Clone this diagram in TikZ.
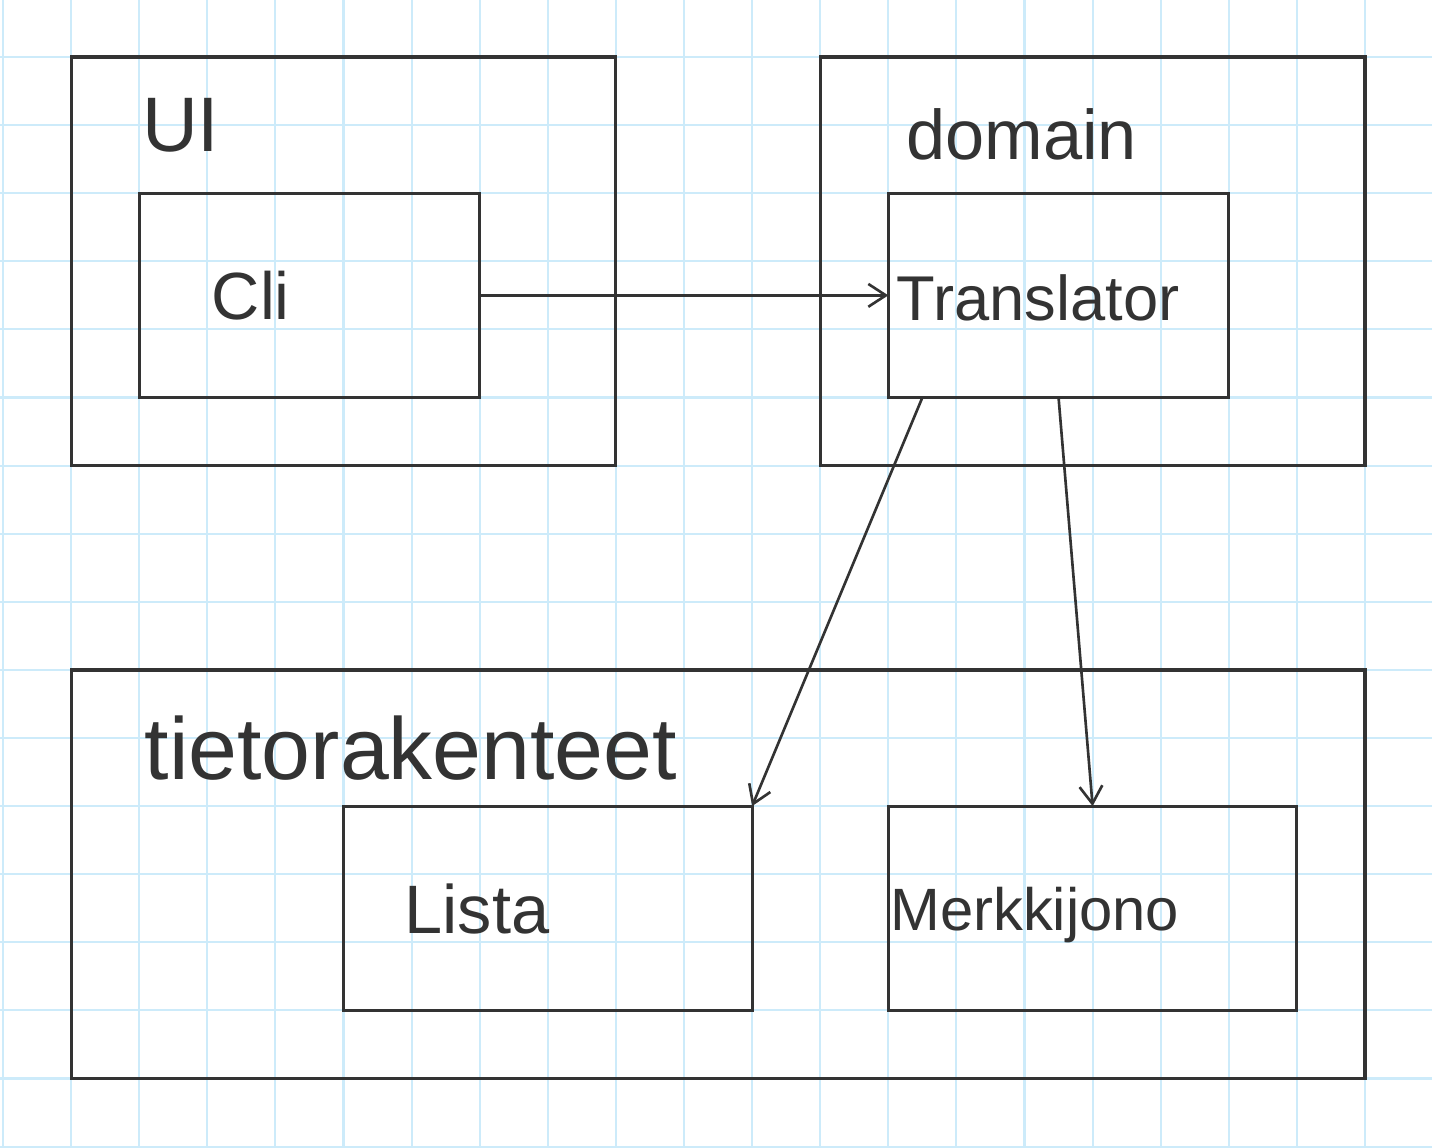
\documentclass[tikz,border=0pt]{standalone}
\usepackage{fontspec}
\setmainfont{Liberation Sans}
\usetikzlibrary{arrows.meta,calc}
\definecolor{ink}{HTML}{333333}
\definecolor{paper}{HTML}{CDEBFA}
\newcommand{\handsize}[1]{\fontsize{#1}{#1}\selectfont}
\tikzset{
  gridline/.style={draw=paper,line width=0.6pt},
  frame/.style={draw=ink,line width=0.9pt},
  classbox/.style={draw=ink,line width=0.9pt,inner sep=0pt,outer sep=0pt,minimum height=2.043cm},
  uses/.style={draw=ink,line width=0.75pt,-{Straight Barb[length=5pt,width=6.5pt]}},
  lbl/.style={text=ink,inner sep=0pt}
}
\begin{document}
\begin{tikzpicture}[x=0.681cm,y=-0.681cm]
\useasboundingbox (-0.044,-0.837) rectangle (20.984,16.02);
\fill[white] (-0.044,-0.837) rectangle (20.984,16.02);
\foreach \i in {0,...,20} \draw[gridline] (\i,-0.837) -- (\i,16.02);
\foreach \j in {0,...,16} \draw[gridline] (-0.044,\j) -- (20.984,\j);
\draw[frame] (1,0) rectangle (9,6);
\node[lbl,font={\handsize{22}}] (ui) at (2.61,1.0) {UI};
\node[classbox,minimum width=3.405cm] (cli) at (4.5,3.5) {};
\node[lbl,font={\handsize{19}}] (clitext) at (3.64,3.5) {Cli};
\draw[frame] (12,0) rectangle (20,6);
\node[lbl,font={\handsize{20}}] (domain) at (14.96,1.14) {domain};
\node[classbox,minimum width=3.405cm] (translator) at (15.5,3.5) {};
\node[lbl,font={\handsize{18}}] (translatortext) at (15.2,3.53) {Translator};
\draw[frame] (1,9) rectangle (20,15);
\node[lbl,font={\handsize{25}}] (tieto) at (5.99,10.15) {tietorakenteet};
\node[classbox,minimum width=4.086cm] (lista) at (8,12.5) {};
\node[lbl,font={\handsize{19.5}}] (listatext) at (6.96,12.51) {Lista};
\node[classbox,minimum width=4.086cm] (merkkijono) at (16,12.5) {};
\node[lbl,font={\handsize{17}}] (merkkijonotext) at (15.15,12.6) {Merkkijono};
\draw[uses] (cli.east) -- (translator.west);
\draw[uses] ($(translator.south west)!0.1!(translator.south east)$) -- (lista.north east);
\draw[uses] (translator.south) -- (merkkijono.north);
\end{tikzpicture}
\end{document}
